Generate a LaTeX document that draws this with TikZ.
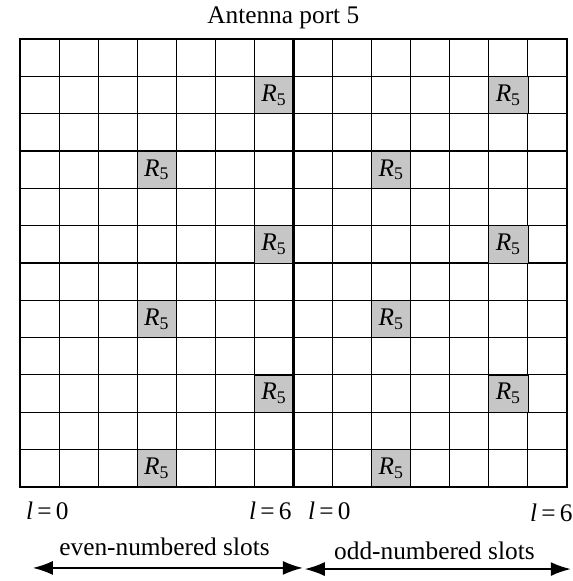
\documentclass[tikz,border=0pt]{standalone}
\usepackage{fontspec}
\setmainfont{Liberation Serif}
\usetikzlibrary{arrows.meta, positioning}
\tikzset{rsig/.style={rectangle,draw,fill=gray!45,minimum width=29.3pt,minimum height=28pt,inner sep=0pt},
  lbl/.style={inner sep=0pt,font=\fontsize{19}{22}\selectfont},
  span/.style={{Latex[length=15pt,width=10.5pt]}-{Latex[length=15pt,width=10.5pt]},line width=1.2pt}}
\newcommand{\rfive}{\fontsize{19}{22}\selectfont\textit{R}\textsubscript{5}}

\begin{document}
\begin{tikzpicture}[x=29.3pt,y=-28pt]
\useasboundingbox (-0.512,-1.045) rectangle (14.154,14.52);
\node[lbl] (title) at (6.74,-0.56) {Antenna port 5};
% grid
\foreach \i in {1,...,13} \draw[line width=0.8pt] (\i,0) -- (\i,12);
\foreach \j in {1,...,11} \draw[line width=0.8pt] (0,\j) -- (14,\j);
% reference signals
\node[rsig] (e1) at (6.5,1.5) {\rfive};
\node[rsig] (e3) at (3.5,3.5) {\rfive};
\node[rsig] (e5) at (6.5,5.5) {\rfive};
\node[rsig] (e7) at (3.5,7.5) {\rfive};
\node[rsig] (e9) at (6.5,9.5) {\rfive};
\node[rsig] (e11) at (3.5,11.5) {\rfive};
\node[rsig] (o1) at (12.5,1.5) {\rfive};
\node[rsig] (o3) at (9.5,3.5) {\rfive};
\node[rsig] (o5) at (12.5,5.5) {\rfive};
\node[rsig] (o7) at (9.5,7.5) {\rfive};
\node[rsig] (o9) at (12.5,9.5) {\rfive};
\node[rsig] (o11) at (9.5,11.5) {\rfive};
\draw[line width=1.8pt] (0,0) rectangle (14,12);
\draw[line width=1.8pt] (7,0) -- (7,12);
% symbol indices
\node[lbl, anchor=west] (e0) at (0.15,12.64) {\textit{l}\,=\,0};
\node[lbl, anchor=east] (e6) at (6.96,12.64) {\textit{l}\,=\,6};
\node[lbl, anchor=west] (o0) at (7.37,12.64) {\textit{l}\,=\,0};
\node[lbl, anchor=east] (o6) at (14.15,12.7) {\textit{l}\,=\,6};
% slots
\node[lbl] (even) at (3.70,13.61) {even-numbered slots};
\node[lbl] (odd) at (10.61,13.72) {odd-numbered slots};
\coordinate (evenL) at (0.33,14.17);
\coordinate (evenR) at (7.24,14.17);
\coordinate (oddL) at (7.29,14.2);
\coordinate (oddR) at (14.10,14.2);
\draw[span] (evenL) -- (evenR);
\draw[span] (oddL) -- (oddR);
\end{tikzpicture}
\end{document}
